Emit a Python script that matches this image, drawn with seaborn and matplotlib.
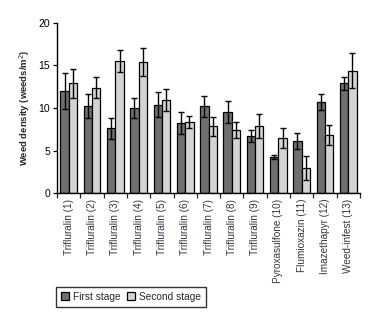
import matplotlib
matplotlib.use("Agg")
import matplotlib.pyplot as plt
import seaborn as sns
import pandas as pd
import numpy as np
from matplotlib.ticker import MultipleLocator, FixedLocator

treatments = ["Trifluralin (1)", "Trifluralin (2)", "Trifluralin (3)", "Trifluralin (4)",
              "Trifluralin (5)", "Trifluralin (6)", "Trifluralin (7)", "Trifluralin (8)",
              "Trifluralin (9)", "Pyroxasulfone (10)", "Flumioxazin (11)", "Imazethapyr (12)",
              "Weed-infest (13)"]
first_stage = [12.0, 10.2, 7.6, 10.0, 10.4, 8.2, 10.2, 9.5, 6.7, 4.2, 6.1, 10.7, 12.9]
first_err = [2.1, 1.4, 1.2, 1.15, 1.5, 1.3, 1.25, 1.3, 0.7, 0.23, 0.94, 0.94, 0.8]
second_stage = [12.9, 12.4, 15.5, 15.4, 10.9, 8.4, 7.85, 7.4, 7.85, 6.45, 3.0, 6.8, 14.4]
second_err = [1.7, 1.2, 1.3, 1.6, 1.3, 0.7, 1.1, 0.95, 1.4, 1.2, 1.4, 1.2, 2.1]
stages = ["First stage", "Second stage"]

df = pd.DataFrame({
    "treatment": treatments * 2,
    "stage": [stages[0]] * len(treatments) + [stages[1]] * len(treatments),
    "density": first_stage + second_stage,
    "err": first_err + second_err,
})

sns.set_style("ticks")
plt.rcParams["font.family"] = ["Liberation Sans Narrow", "Liberation Sans", "DejaVu Sans"]

fig = plt.figure(figsize=(3.71, 3.23), dpi=100)
ax = fig.add_axes([0.154, 0.402, 0.816, 0.527])

palette = {stages[0]: "#6f6f6f", stages[1]: "#d4d4d4"}
sns.barplot(data=df, x="treatment", y="density", hue="stage", order=treatments,
            hue_order=stages, palette=palette, errorbar=None, width=0.72, gap=0,
            edgecolor="black", linewidth=0.9, saturation=1, ax=ax)

# error bars placed at the bar centres created by seaborn
for container, st in zip(ax.containers, stages):
    sub = df[df["stage"] == st].set_index("treatment").loc[treatments]
    xs = [p.get_x() + p.get_width() / 2 for p in container.patches]
    ax.errorbar(xs, sub["density"].values, yerr=sub["err"].values, fmt="none",
                ecolor="black", elinewidth=1.0, capsize=2.4, capthick=1.0, zorder=5)

ax.set_ylim(0, 20)
ax.set_xlim(-0.5, len(treatments) - 0.5)
ax.yaxis.set_major_locator(MultipleLocator(5))
ax.set_ylabel("Weed density (weeds/m$^2$)", fontsize=6.8, fontweight="bold", labelpad=5)
ax.set_xlabel("")
ax.tick_params(axis="y", labelsize=7.5, length=3, width=0.9, pad=2, colors="black")
ax.tick_params(axis="x", which="major", length=0, labelsize=7.2, pad=4, labelcolor="#2e3844")
ax.xaxis.set_minor_locator(FixedLocator(np.arange(-0.5, len(treatments), 1.0)))
ax.tick_params(axis="x", which="minor", length=3.5, width=0.9, direction="out")
for lab in ax.get_xticklabels():
    lab.set_rotation(90)
sns.despine(ax=ax)
for s in ["left", "bottom"]:
    ax.spines[s].set_linewidth(1.0)
    ax.spines[s].set_color("black")

leg = ax.legend(loc="upper left", bbox_to_anchor=(-0.003, -0.55), ncol=2, frameon=True,
                fancybox=False, edgecolor="black", fontsize=7.3, handlelength=0.8,
                handleheight=0.8, handletextpad=0.4, columnspacing=0.6,
                borderpad=0.5, borderaxespad=0, title=None)
leg.get_frame().set_linewidth(1.0)

fig.savefig("out.png", dpi=100)
